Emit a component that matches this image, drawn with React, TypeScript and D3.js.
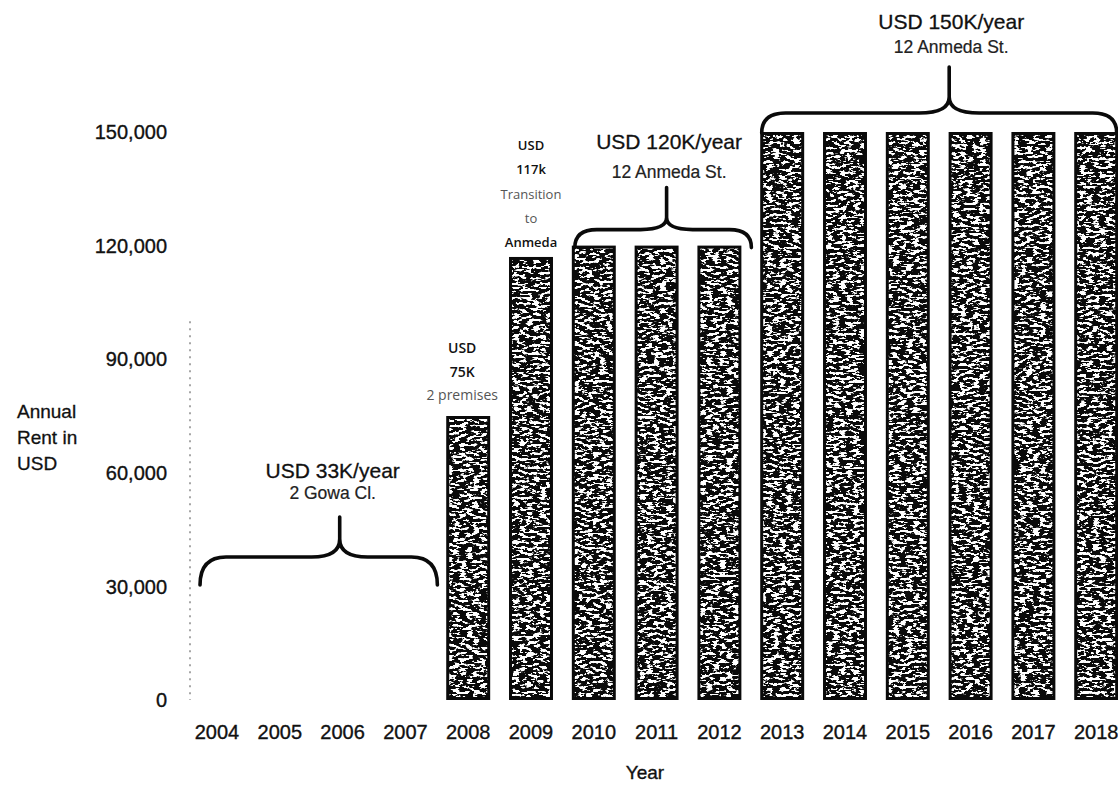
import React from "react";
import * as d3 from "d3";

const years = ["2004","2005","2006","2007","2008","2009","2010","2011","2012","2013","2014","2015","2016","2017","2018"];
const rent: (number | null)[] = [null, null, null, null, 75000, 117000, 120000, 120000, 120000, 150000, 150000, 150000, 150000, 150000, 150000];
const yTicks = [0, 30000, 60000, 90000, 120000, 150000];

const noteYears = ["2008", "2009"];
const noteLines = [["USD", "75K", "2 premises"], ["USD", "117k", "Transition", "to", "Anmeda"]];

const braceFrom = ["2004", "2010", "2013"];
const braceTo = ["2007", "2012", "2018"];
const braceRent = [33000, 120000, 150000];
const braceTitle = ["USD 33K/year", "USD 120K/year", "USD 150K/year"];
const braceSub = ["2 Gowa Cl.", "12 Anmeda St.", "12 Anmeda St."];

const W = 1118, H = 786;
const FONT = "'Liberation Sans', Arial, Helvetica, sans-serif";
const NOTE_FONT = "'Open Sans', 'Noto Sans', sans-serif";

// pixel layout of each brace (style, not data)
const braceLayout = [
  { padL: 5, padR: 10, dyEnd: 10, dH: 28, dTip: 46, dStem: 68, shift: 21, tShift: 14, re: 26, rm: 28, t1: 107, t2: 86 },
  { padL: 3, padR: 10, dyEnd: 2, dH: 18, dTip: 30, dStem: 60, shift: 3.5, tShift: 6, re: 22, rm: 26, t1: 99, t2: 70 },
  { padL: 1.5, padR: -1.5, dyEnd: 1, dH: 20, dTip: 36, dStem: 66, shift: 10, tShift: 12, re: 24, rm: 30, t1: 104, t2: 80 },
];

export default function App() {
  const x = d3.scaleBand<string>().domain(years).range([185.6, 1127.6]).paddingInner(0.3).paddingOuter(0.15);
  const y = d3.scaleLinear().domain([0, 150000]).range([700, 132]);
  const bw = x.bandwidth();
  const fmt = d3.format(",");

  return (
    <svg width={W} height={H} style={{ position: "absolute", left: 0, top: 0, background: "#fff" }}>
      <defs>
        <filter id="grain" x="0" y="0" width="100%" height="100%">
          <feTurbulence type="fractalNoise" baseFrequency="0.15 0.36" numOctaves="3" seed="5" result="noise" />
          <feColorMatrix in="noise" type="matrix"
            values="0 0 0 0 1  0 0 0 0 1  0 0 0 0 1  20 0 0 0 -10.3" result="spots" />
          <feComposite in="spots" in2="SourceGraphic" operator="in" />
        </filter>
      </defs>
      <rect width={W} height={H} fill="#fff" />

      {/* faint scanned axis line */}
      <line x1={190} x2={190} y1={y(100000)} y2={y(0)} stroke="#777" strokeWidth={1.3} strokeDasharray="2 5" />

      {/* y tick labels */}
      {yTicks.map((t) => (
        <text key={t} x={167} y={y(t)} dy="0.36em" textAnchor="end" fontFamily={FONT} fontSize={20}
          fill="#111" stroke="#111" strokeWidth={0.35}>{fmt(t)}</text>
      ))}

      {/* y axis title */}
      {["Annual", "Rent in", "USD"].map((s, i) => (
        <text key={s} x={17} y={418 + i * 26} fontFamily={FONT} fontSize={19} fill="#111" stroke="#111" strokeWidth={0.3}>{s}</text>
      ))}

      {/* bars */}
      {years.map((yr, i) => {
        const v = rent[i];
        if (v == null) return null;
        const x0 = x(yr)!;
        const top = y(v);
        const h = y(0) - top;
        return (
          <g key={yr}>
            <rect x={x0} y={top} width={bw} height={h} fill="#0a0a0a" />
            <rect x={x0 + 3} y={top + 3} width={bw - 6} height={h - 6} fill="#fff" filter="url(#grain)" />
          </g>
        );
      })}

      {/* x tick labels */}
      {years.map((yr) => (
        <text key={yr} x={x(yr)! + bw / 2} y={739} textAnchor="middle" fontFamily={FONT} fontSize={20}
          fill="#111" stroke="#111" strokeWidth={0.35}>{yr}</text>
      ))}
      <text x={645} y={779} textAnchor="middle" fontFamily={FONT} fontSize={19} fill="#111" stroke="#111" strokeWidth={0.35}>Year</text>

      {/* small notes above bars */}
      {noteYears.map((yr, k) => {
        const cx = x(yr)! + bw / 2 - (k === 0 ? 6 : 0);
        const lines = noteLines[k];
        const startY = k === 0 ? 353 : 150;
        return lines.map((s, j) => {
          const strong = k === 0 ? j < 2 : j < 2 || j === 4;
          return (
            <text key={yr + j} x={cx} y={startY + j * (k === 0 ? 23.5 : 24.3)} textAnchor="middle"
              fontFamily={NOTE_FONT} fontSize={k === 0 ? 14 : 13}
              fontWeight={strong ? 600 : 400} fill={strong ? "#111" : "#555"}>{s}</text>
          );
        });
      })}

      {/* braces */}
      {braceFrom.map((from, i) => {
        const L = braceLayout[i];
        const x0 = x(from)! + L.padL;
        const x1 = x(braceTo[i])! + bw + L.padR;
        const yEnd = y(braceRent[i]) + L.dyEnd;
        const yH = yEnd - L.dH;
        const yTip = yEnd - L.dTip;
        const yStem = yEnd - L.dStem;
        const cx = (x0 + x1) / 2 + L.shift;
        const tx = (x0 + x1) / 2 + L.tShift;
        const p = d3.path();
        p.moveTo(x0, yEnd);
        p.quadraticCurveTo(x0, yH, x0 + L.re, yH);
        p.lineTo(cx - L.rm, yH);
        p.quadraticCurveTo(cx, yH, cx, yTip);
        p.lineTo(cx, yStem);
        p.moveTo(cx, yTip);
        p.quadraticCurveTo(cx, yH, cx + L.rm, yH);
        p.lineTo(x1 - L.re, yH);
        p.quadraticCurveTo(x1, yH, x1, yEnd);
        return (
          <g key={from}>
            <path d={p.toString()} fill="none" stroke="#0a0a0a" strokeWidth={3.6} strokeLinecap="round" strokeLinejoin="round" />
            <text x={tx} y={yEnd - L.t1} textAnchor="middle" fontFamily={FONT} fontSize={21} fill="#111" stroke="#111" strokeWidth={0.3}>{braceTitle[i]}</text>
            <text x={tx} y={yEnd - L.t2} textAnchor="middle" fontFamily={FONT} fontSize={17.5} fill="#222" stroke="#222" strokeWidth={0.2}>{braceSub[i]}</text>
          </g>
        );
      })}
    </svg>
  );
}
